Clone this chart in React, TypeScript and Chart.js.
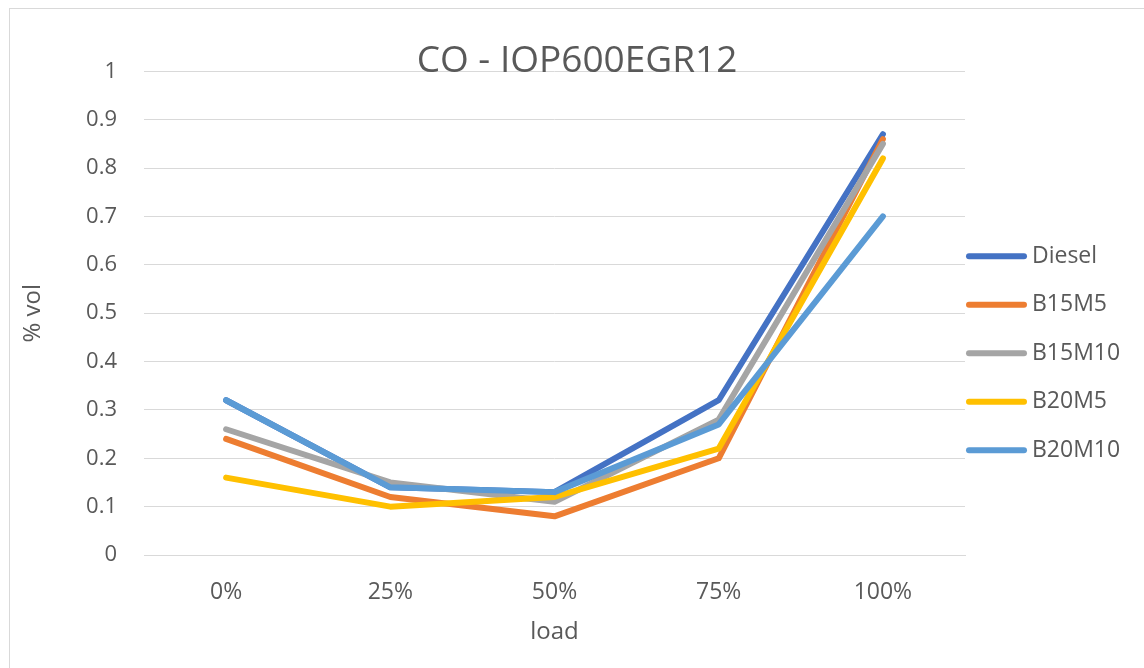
import { useEffect, useRef } from "react";
import { Chart, registerables, layouts } from "chart.js";

Chart.register(...registerables);

// Engine load points and CO readings (% vol) per fuel blend
const loads = ["0%", "25%", "50%", "75%", "100%"];
const diesel = [0.32, 0.14, 0.13, 0.32, 0.87];
const b15m5 = [0.24, 0.12, 0.08, 0.2, 0.86];
const b15m10 = [0.26, 0.15, 0.11, 0.28, 0.85];
const b20m5 = [0.16, 0.1, 0.12, 0.22, 0.82];
const b20m10 = [0.32, 0.14, 0.13, 0.27, 0.7];

const seriesNames = ["Diesel", "B15M5", "B15M10", "B20M5", "B20M10"];
const seriesValues = [diesel, b15m5, b15m10, b20m5, b20m10];
const seriesColors = ["#4472C4", "#ED7D31", "#A5A5A5", "#FFC000", "#5B9BD5"];
const yTickValues = [0, 0.1, 0.2, 0.3, 0.4, 0.5, 0.6, 0.7, 0.8, 0.9, 1];

const FONT = "'Open Sans', 'Noto Sans', sans-serif";
const TEXT = "#595959";
const GRID = "#D9D9D9";
const LEGEND_WIDTH = 179;

// Legend on the right: reserves its own column in the layout, then draws
// a short thick line followed by the series label for every dataset.
const sideLegend = {
  id: "sideLegend",
  start(chart: any) {
    const box = {
      position: "right",
      weight: 1000,
      fullSize: false,
      options: { stackWeight: 1 },
      width: 0,
      height: 0,
      left: 0,
      top: 0,
      right: 0,
      bottom: 0,
      isHorizontal() {
        return false;
      },
      update(_maxWidth: number, maxHeight: number) {
        this.width = LEGEND_WIDTH;
        this.height = maxHeight;
      },
      draw() {},
    };
    chart.$sideLegendBox = box;
    layouts.addBox(chart, box as any);
  },
  stop(chart: any) {
    if (chart.$sideLegendBox) layouts.removeBox(chart, chart.$sideLegendBox);
  },
  afterDraw(chart: any) {
    const { ctx, chartArea } = chart;
    ctx.save();
    ctx.font = `23px ${FONT}`;
    ctx.textBaseline = "middle";
    ctx.textAlign = "left";
    chart.data.datasets.forEach((ds: any, i: number) => {
      const y = chartArea.top + 185 + i * 48.5;
      ctx.strokeStyle = ds.borderColor;
      ctx.lineWidth = 6;
      ctx.lineCap = "round";
      ctx.beginPath();
      ctx.moveTo(chartArea.right + 4, y);
      ctx.lineTo(chartArea.right + 59, y);
      ctx.stroke();
      ctx.fillStyle = TEXT;
      ctx.fillText(ds.label, chartArea.right + 67, y);
    });
    ctx.restore();
  },
};

export default function App() {
  const canvasRef = useRef<HTMLCanvasElement | null>(null);

  useEffect(() => {
    if (!canvasRef.current) return;
    const chart = new Chart(canvasRef.current, {
      type: "line",
      data: {
        labels: loads,
        datasets: seriesNames.map((name, i) => ({
          label: name,
          data: seriesValues[i],
          borderColor: seriesColors[i],
          backgroundColor: seriesColors[i],
          borderWidth: 6,
          borderCapStyle: "round" as const,
          borderJoinStyle: "round" as const,
          pointRadius: 0,
          pointHoverRadius: 0,
          tension: 0,
          fill: false,
          order: seriesNames.length - 1 - i,
        })),
      },
      options: {
        responsive: false,
        animation: false,
        layout: { padding: 0 },
        plugins: {
          legend: { display: false },
          tooltip: { enabled: false },
          title: {
            display: true,
            text: "CO - IOP600EGR12",
            color: TEXT,
            font: { family: FONT, size: 37, weight: "normal", lineHeight: 0.55 },
            padding: { top: 42, bottom: 0 },
          },
        },
        scales: {
          x: {
            type: "category",
            offset: true,
            grid: { display: false, drawTicks: false },
            border: { display: true, color: GRID, width: 1 },
            ticks: {
              color: TEXT,
              padding: 24,
              font: { family: FONT, size: 23 },
            },
            title: {
              display: true,
              text: "load",
              color: TEXT,
              font: { family: FONT, size: 24, lineHeight: 1.2 },
              padding: { top: 0, bottom: 21 },
            },
            afterFit(scale: any) {
              scale.height = 113;
            },
          },
          y: {
            min: 0,
            max: 1,
            afterBuildTicks(scale: any) {
              scale.ticks = yTickValues.map((v) => ({ value: v }));
            },
            grid: { color: GRID, lineWidth: 1, drawTicks: false },
            border: { display: false },
            ticks: {
              color: TEXT,
              padding: 27,
              font: { family: FONT, size: 22 },
              callback: (v: any) => String(Math.round(Number(v) * 10) / 10),
            },
            title: {
              display: true,
              text: "% vol",
              color: TEXT,
              font: { family: FONT, size: 24, lineHeight: 1.2 },
              padding: { top: 9, bottom: 0 },
            },
            afterFit(scale: any) {
              scale.width = 134;
            },
          },
        },
      },
      plugins: [sideLegend],
    });
    return () => chart.destroy();
  }, []);

  return (
    <>
      <style>{`html,body{margin:0;overflow:hidden;background:#fff}`}</style>
      <div
        style={{
          position: "absolute",
          left: 9,
          top: 8,
          width: 1135,
          height: 660,
          boxSizing: "border-box",
          borderTop: "1px solid #D9D9D9",
          borderLeft: "1px solid #D9D9D9",
          background: "#fff",
        }}
      >
        <canvas ref={canvasRef} width={1134} height={659} style={{ display: "block" }} />
      </div>
    </>
  );
}
